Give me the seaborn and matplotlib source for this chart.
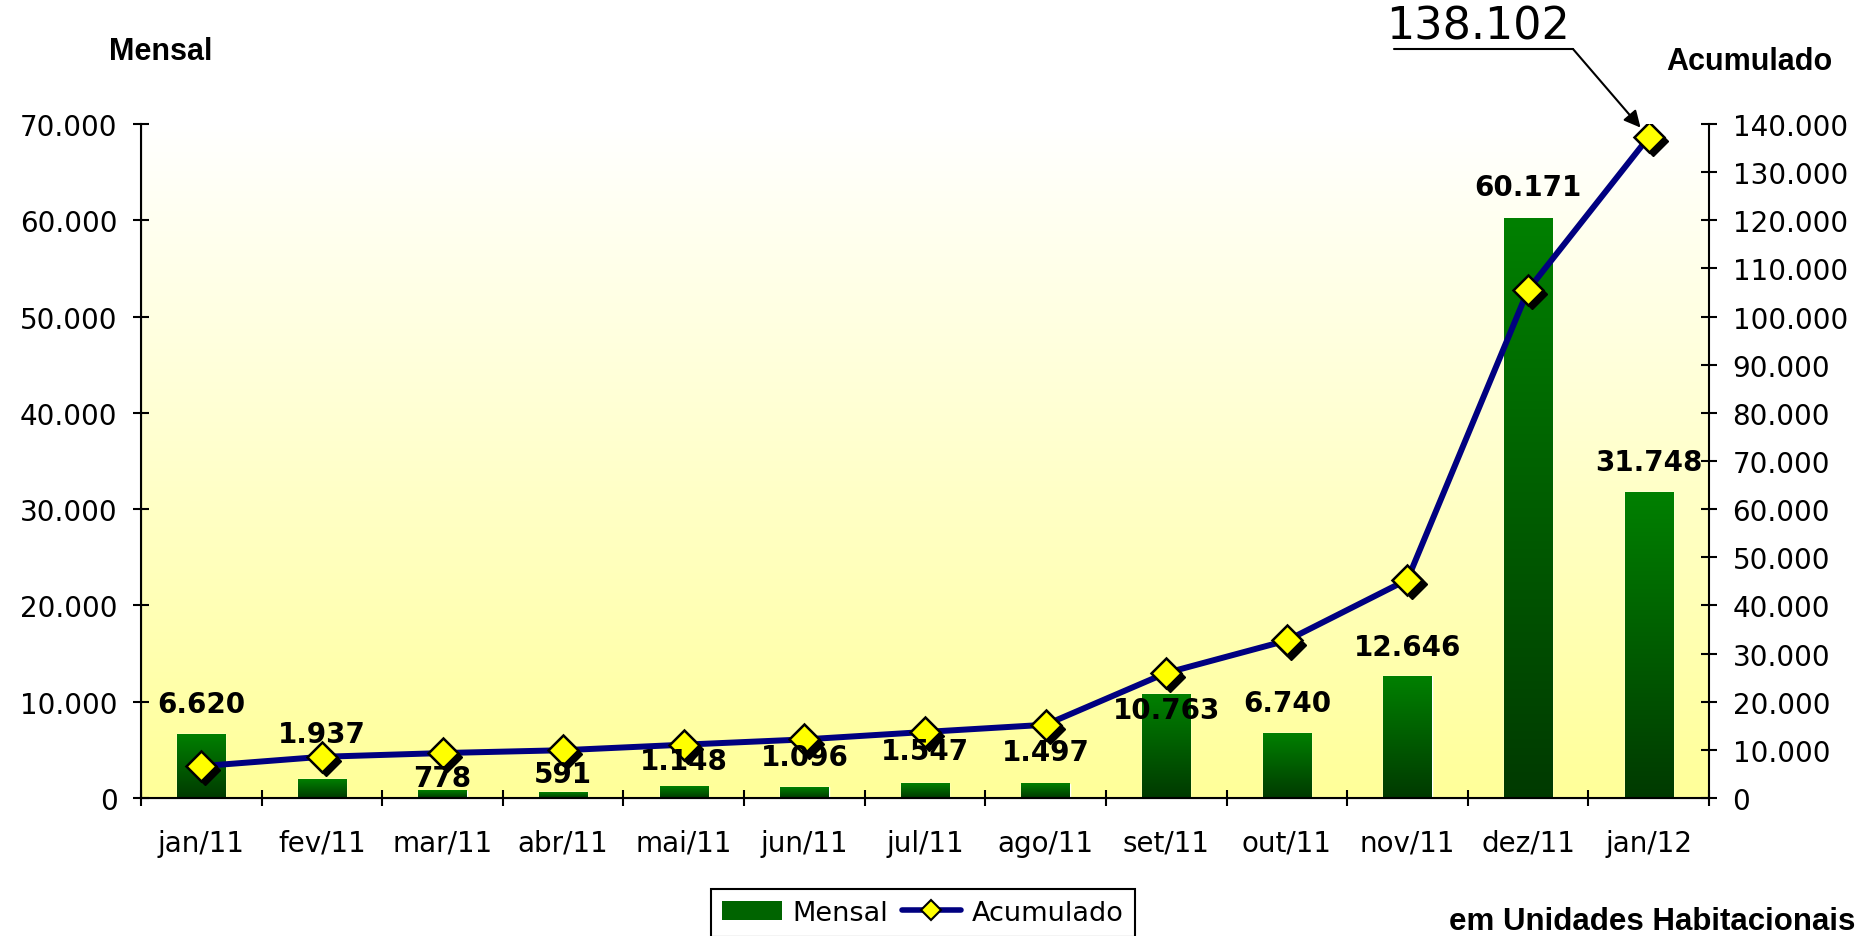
import numpy as np
import seaborn as sns
import matplotlib.pyplot as plt
import matplotlib.transforms as mtransforms
from matplotlib.colors import LinearSegmentedColormap
from matplotlib.ticker import FuncFormatter, MultipleLocator
from matplotlib.lines import Line2D
from matplotlib.patches import Patch

# dados
meses = ['jan/11', 'fev/11', 'mar/11', 'abr/11', 'mai/11', 'jun/11', 'jul/11',
         'ago/11', 'set/11', 'out/11', 'nov/11', 'dez/11', 'jan/12']
mensal = [6620, 1937, 778, 591, 1148, 1096, 1547, 1497, 10763, 6740, 12646, 60171, 31748]
acumulado = [6620, 8557, 9335, 9926, 11074, 12170, 13717, 15214, 25977, 32717, 45363,
             105534, 137282]
total_destaque = 138102

# deslocamento vertical dos rótulos (pontos)
label_off = [22, 33, 9, 13, 19, 22, 23, 23, -11, 22, 21, 23, 22]


def milhar(v, pos=None):
    return f"{int(round(v)):,}".replace(',', '.')


sns.set_style('ticks')
plt.rcParams['font.family'] = ['DejaVu Sans']
plt.rcParams.update({'text.color': 'black', 'axes.labelcolor': 'black',
                     'xtick.color': 'black', 'ytick.color': 'black',
                     'axes.edgecolor': 'black'})

W, H = 1865, 937
fig = plt.figure(figsize=(W / 100, H / 100), dpi=100)
ax = fig.add_axes([141 / W, 1 - 799 / H, (1709 - 141) / W, (799 - 125) / H])

# fundo em degradê (branco -> amarelo)
grad = np.linspace(0, 1, 256).reshape(-1, 1)
bg = LinearSegmentedColormap.from_list('bg', ['#FFFF99', '#FFFFFF'])
ax.imshow(grad, cmap=bg, origin='lower', extent=[0, 1, 0, 1],
          transform=ax.transAxes, aspect='auto', zorder=0)

sns.barplot(x=meses, y=mensal, ax=ax, width=0.4, color='#006400',
            saturation=1, zorder=2)
verde = LinearSegmentedColormap.from_list('verde', ['#003A00', '#008000'])
for p in list(ax.patches):
    x0, w, h = p.get_x(), p.get_width(), p.get_height()
    ax.imshow(grad, cmap=verde, origin='lower', extent=[x0, x0 + w, 0, h],
              aspect='auto', zorder=2.5)

ax.set_xlim(-0.5, 12.5)
ax.set_ylim(0, 70000)
ax.yaxis.set_major_locator(MultipleLocator(10000))
ax.yaxis.set_major_formatter(FuncFormatter(milhar))
ax.set_xticks(range(len(meses)))
ax.set_xticklabels(meses)
ax.set_xticks(np.arange(-0.5, len(meses), 1), minor=True)
ax.tick_params(axis='x', which='major', length=0, labelsize=20, pad=22)
ax.tick_params(axis='x', which='minor', direction='inout', length=12, width=1.5, color='black')
ax.tick_params(axis='y', direction='inout', length=12, width=1.5, labelsize=20, pad=11,
               color='black')
ax.set_xlabel('')
ax.set_ylabel('')
for s in ['left', 'bottom']:
    ax.spines[s].set_linewidth(1.5)
    ax.spines[s].set_color('black')
ax.spines['top'].set_visible(False)
ax.spines['right'].set_visible(False)

# série acumulada
ax2 = ax.twinx()
xs = np.arange(len(meses))
sns.lineplot(x=xs, y=acumulado, ax=ax2, color='#000080', linewidth=4.3, zorder=3)
sombra = ax2.transData + mtransforms.ScaledTranslation(3 / 72, -3 / 72, fig.dpi_scale_trans)
ax2.plot(xs, acumulado, ls='none', marker='D', ms=15.5, color='black',
         transform=sombra, zorder=4)
ax2.plot(xs, acumulado, ls='none', marker='D', ms=15.5, mfc='#FFFF00', mec='black',
         mew=1.8, zorder=4.5)
ax2.set_ylim(0, 140000)
ax2.yaxis.set_major_locator(MultipleLocator(10000))
ax2.yaxis.set_major_formatter(FuncFormatter(milhar))
ax2.tick_params(axis='y', direction='inout', length=12, width=1.5, labelsize=20, pad=11,
                color='black')
ax2.set_ylabel('')
ax2.spines['top'].set_visible(False)
ax2.spines['right'].set_linewidth(1.5)
ax2.spines['right'].set_color('black')

# rótulos das barras
for i, (v, off) in enumerate(zip(mensal, label_off)):
    ax2.annotate(milhar(v), xy=(i, v), xycoords=ax.transData, xytext=(0, off),
                 textcoords='offset points', ha='center', va='center',
                 fontsize=20, fontweight='bold', color='black', zorder=6)

# destaque do total
fig.text(1478 / W, 1 - 27 / H, milhar(total_destaque), ha='center', va='center',
         fontsize=32, color='black')
fig.add_artist(Line2D([1394 / W, 1573 / W], [1 - 50 / H] * 2, transform=fig.transFigure,
                      color='black', lw=1.5))
ax2.annotate('', xy=(12, acumulado[-1]), xycoords='data',
             xytext=(1573, H - 50), textcoords='figure pixels',
             arrowprops=dict(arrowstyle='-|>', color='black', lw=1.5,
                             mutation_scale=25, shrinkA=0, shrinkB=9))

# títulos
fig.text(161 / W, 1 - 52 / H, 'Mensal', ha='center', va='center', fontsize=22,
         fontweight='bold', family='Liberation Sans', color='black')
fig.text(1749 / W, 1 - 62 / H, 'Acumulado', ha='center', va='center', fontsize=22,
         fontweight='bold', family='Liberation Sans', color='black')
fig.text(1855 / W, 1 - 922 / H, 'em Unidades Habitacionais', ha='right', va='center',
         fontsize=22.5, fontweight='bold', family='Liberation Sans', color='black')

# legenda
handles = [Patch(facecolor='#006400', edgecolor='none'),
           Line2D([], [], color='#000080', lw=4, marker='D', ms=10,
                  mfc='#FFFF00', mec='black', mew=1.5)]
leg = fig.legend(handles, ['Mensal', 'Acumulado'], loc='upper center',
                 bbox_to_anchor=(923 / W, 1 - 890 / H), ncol=2, frameon=True,
                 fancybox=False, edgecolor='black', framealpha=1, fontsize=19.5,
                 handlelength=2.2, handletextpad=0.4, columnspacing=0.5,
                 borderpad=0.4, borderaxespad=0)
leg.get_frame().set_linewidth(1.5)

fig.savefig('out.png', dpi=100)
